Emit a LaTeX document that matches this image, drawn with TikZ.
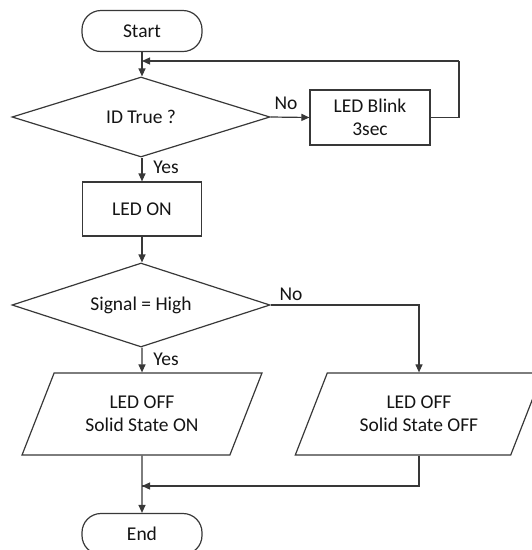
\documentclass[tikz,border=0pt]{standalone}
\usepackage{fontspec}
\setmainfont{Carlito}
\usetikzlibrary{shapes.geometric,arrows.meta}

\tikzset{
    base/.style={draw=black!78, line width=1.2pt, text=black!92, align=center,
        inner sep=0pt, font=\fontsize{19.5}{23}\selectfont},
    terminal/.style={base, rectangle, rounded corners=19pt,
        minimum width=120pt, minimum height=41pt},
    process/.style={base, rectangle, minimum width=120pt, minimum height=55pt},
    decision/.style={base, diamond, aspect=3, minimum width=258pt},
    io/.style={base, trapezium, trapezium left angle=60, trapezium right angle=120,
        trapezium stretches=true, minimum height=82pt},
    arr/.style={draw=black!78, line width=1.2pt, -{Triangle[length=8pt,width=7pt]}},
    line/.style={draw=black!78, line width=1.2pt},
    lbl/.style={text=black!92, inner sep=0pt, font=\fontsize{19.5}{23}\selectfont}
}

\begin{document}
\begin{tikzpicture}[x=1pt, y=-1pt]
    \pgfmathsetmacro\colx{142};
    \useasboundingbox (0,0) rectangle (532,550);

    \node[terminal] (start) at (\colx, 31) {Start};
    \node[decision, minimum height=80pt] (idtrue) at (141, 117) {ID True ?};
    \node[process] (blink) at (370, 117.5) {LED Blink\\3sec};
    \node[process, minimum width=119pt, minimum height=54pt] (ledon) at (\colx, 209) {LED ON};
    \node[decision, minimum height=84pt] (signal) at (141, 305) {Signal = High};
    \node[io, minimum width=240pt] (offon) at (\colx, 414) {LED OFF\\Solid State ON};
    \node[io, minimum width=248pt] (offoff) at (419, 414) {LED OFF\\Solid State OFF};
    \node[terminal] (end) at (\colx, 534) {End};

    \coordinate (loopin) at (\colx, 61);
    \coordinate (loopcorner) at (459, 61);
    \coordinate (endin) at (\colx, 486);

    \node[lbl] (noid) at (286, 103) {No};
    \node[lbl] (yesid) at (166, 167) {Yes};
    \node[lbl] (nosig) at (291, 294) {No};
    \node[lbl] (yessig) at (166, 359) {Yes};

    % main line
    \draw[arr] (start) -- (start |- idtrue.north);
    \draw[arr] (idtrue.east) -- (blink.west);
    \draw[line] (blink.east) -| (loopcorner);
    \draw[arr] (loopcorner) -- (loopin);
    \draw[arr] (idtrue.south -| ledon) -- (ledon.north);
    \draw[arr] (ledon) -- (ledon |- signal.north);
    \draw[arr] (signal.south -| offon) -- (offon.north);
    \draw[arr] (signal.east) -| (offoff.north);
    \draw[line] (offoff.south) |- (endin);
    \draw[arr] (endin -| offoff.south) -- (endin);
    \draw[arr] (offon.south) -- (end.north);
\end{tikzpicture}
\end{document}
